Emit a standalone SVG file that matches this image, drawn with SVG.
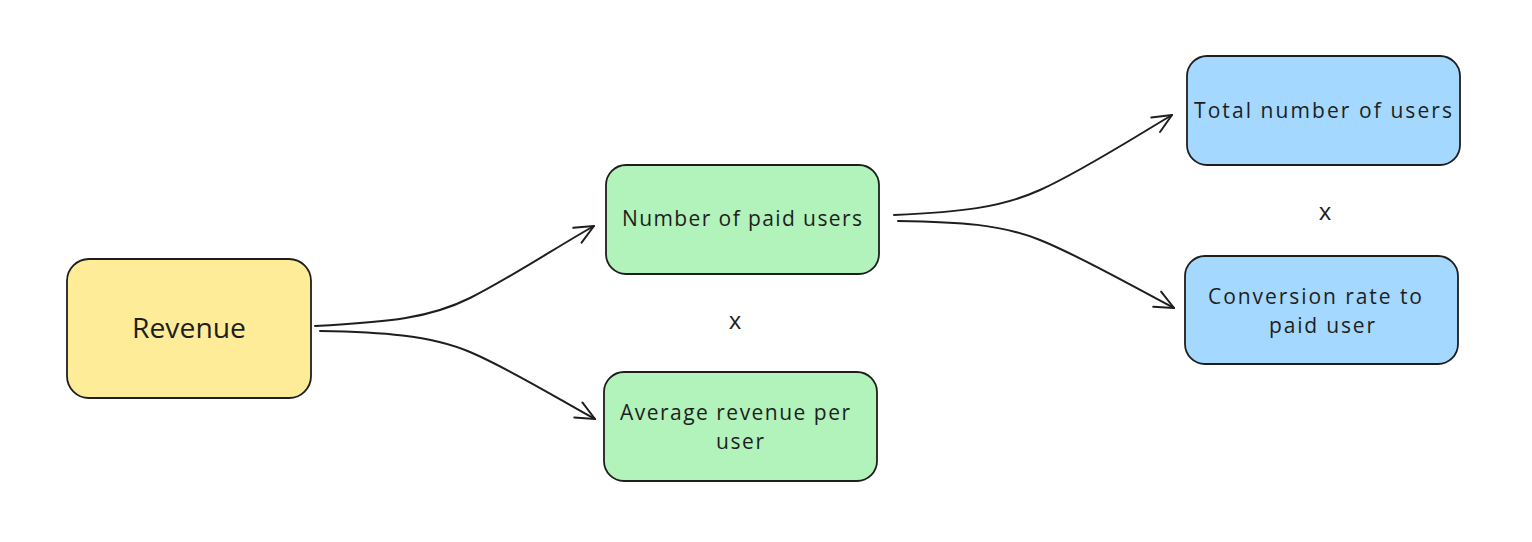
<svg xmlns="http://www.w3.org/2000/svg" width="1532" height="542" viewBox="0 0 1532 542">
<style>
.box{stroke:#1e1e1e;stroke-width:1.8}
.y{fill:#ffec99}.g{fill:#b2f2bb}.b{fill:#a5d8ff}
.t{font-family:"Open Sans","Noto Sans",sans-serif;fill:#1e1e1e;font-size:21px;text-anchor:middle;dominant-baseline:central}
.big{font-size:28px}
.c{fill:none;stroke:#1e1e1e;stroke-width:2;stroke-linecap:round}
</style>
<defs>
<marker id="ah" markerUnits="userSpaceOnUse" orient="auto" overflow="visible" markerWidth="1" markerHeight="1" refX="0" refY="0">
<path d="M-19,-8.5 L0,0 L-19,8.5" fill="none" stroke="#1e1e1e" stroke-width="2" stroke-linecap="round" stroke-linejoin="round"/>
</marker>
</defs>
<rect width="1532" height="542" fill="#ffffff"/>
<g id="connectors">
<path class="c" marker-end="url(#ah)" d="M315,326 C 390,322 430,318 470,298 S 560,245 594,226"/>
<path class="c" marker-end="url(#ah)" d="M320,331 C 380,332 430,335 470,352 S 560,400 595,419"/>
<path class="c" marker-end="url(#ah)" d="M894,215 C 960,212 1000,208 1040,190 S 1130,140 1172,115"/>
<path class="c" marker-end="url(#ah)" d="M898,221 C 960,222 1000,224 1040,240 S 1130,285 1174,308"/>
</g>
<g id="revenue">
<rect class="box y" x="67" y="259" width="244" height="139" rx="22"/>
<text class="t big" x="189" y="327" textLength="114" lengthAdjust="spacingAndGlyphs">Revenue</text>
</g>
<g id="paid-users">
<rect class="box g" x="606" y="165" width="273" height="109" rx="20"/>
<text class="t" x="742" y="218" textLength="240" lengthAdjust="spacing">Number of paid users</text>
</g>
<g id="x1"><text class="t" style="font-size:24px" x="735" y="319">x</text></g>
<g id="arpu">
<rect class="box g" x="604" y="372" width="273" height="109" rx="20"/>
<text class="t" x="735" y="412" textLength="230" lengthAdjust="spacing">Average revenue per</text>
<text class="t" x="740" y="441" textLength="48" lengthAdjust="spacing">user</text>
</g>
<g id="total-users">
<rect class="box b" x="1187" y="56" width="273" height="109" rx="20"/>
<text class="t" x="1323" y="110" textLength="258" lengthAdjust="spacing">Total number of users</text>
</g>
<g id="x2"><text class="t" style="font-size:24px" x="1325" y="210">x</text></g>
<g id="conversion">
<rect class="box b" x="1185" y="256" width="273" height="108" rx="20"/>
<text class="t" x="1315" y="296" textLength="214" lengthAdjust="spacing">Conversion rate to</text>
<text class="t" x="1322" y="325" textLength="106" lengthAdjust="spacing">paid user</text>
</g>
</svg>
